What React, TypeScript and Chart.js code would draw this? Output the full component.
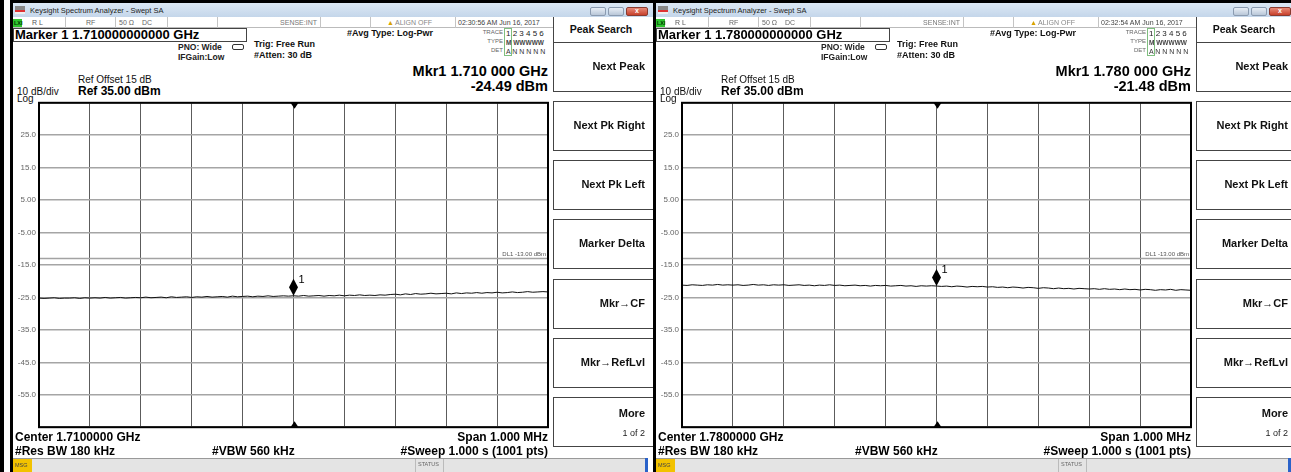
import React, { useEffect, useRef } from "react";
import { Chart, registerables } from "chart.js";

Chart.register(...registerables);

const FONT = '"Liberation Sans", Arial, sans-serif';
const NARROW = '"Liberation Sans Narrow", "Liberation Sans", Arial, sans-serif';

// ---------- data ----------
const yTickValues = [25, 15, 5, -5, -15, -25, -35, -45, -55];
const yTickLabels = ["25.0", "15.0", "5.00", "-5.00", "-15.0", "-25.0", "-35.0", "-45.0", "-55.0"];
const yMin = -65;
const yMax = 35;
const displayLineDbm = -13;
const spanStartKHz = -500;
const spanEndKHz = 500;

// 1.710 GHz trace (dBm), 101 samples across the 1 MHz span
const traceLeft = [
  -25.2, -25.3, -25.2, -25.1, -25.3, -25.2, -25.2, -25.1, -25.3, -25.1,
  -25.2, -25.1, -25.2, -25.0, -25.2, -25.1, -25.0, -25.2, -25.1, -25.0,
  -25.1, -24.9, -25.1, -25.0, -24.9, -25.1, -24.8, -25.0, -24.9, -24.8,
  -25.0, -24.8, -24.9, -24.7, -24.9, -24.8, -24.7, -24.9, -24.6, -24.8,
  -24.7, -24.6, -24.8, -24.6, -24.7, -24.5, -24.7, -24.6, -24.5, -24.6,
  -24.49, -24.6, -24.4, -24.6, -24.5, -24.4, -24.6, -24.4, -24.5, -24.3,
  -24.5, -24.3, -24.4, -24.2, -24.4, -24.3, -24.4, -24.2, -24.3, -24.1,
  -24.0, -24.2, -23.9, -24.1, -23.8, -24.0, -23.9, -23.7, -23.9, -23.8,
  -23.7, -23.9, -23.6, -23.8, -23.6, -23.7, -23.5, -23.7, -23.5, -23.6,
  -23.4, -23.6, -23.5, -23.3, -23.5, -23.4, -23.2, -23.4, -23.3, -23.2,
  -23.3,
];

// 1.780 GHz trace (dBm)
const traceRight = [
  -21.2, -21.3, -21.1, -21.2, -21.3, -21.1, -21.2, -21.0, -21.2, -21.1,
  -21.2, -21.1, -21.3, -21.2, -21.0, -21.2, -21.1, -21.3, -21.1, -21.2,
  -21.1, -21.3, -21.2, -21.1, -21.3, -21.2, -21.4, -21.2, -21.3, -21.1,
  -21.3, -21.2, -21.4, -21.3, -21.2, -21.4, -21.3, -21.5, -21.3, -21.4,
  -21.3, -21.5, -21.4, -21.3, -21.5, -21.4, -21.6, -21.4, -21.5, -21.4,
  -21.48, -21.6, -21.5, -21.7, -21.5, -21.6, -21.8, -21.6, -21.7, -21.6,
  -21.8, -21.7, -21.9, -21.8, -22.0, -21.8, -21.9, -22.1, -21.9, -22.0,
  -22.2, -22.0, -22.1, -22.3, -22.1, -22.3, -22.2, -22.4, -22.2, -22.3,
  -22.4, -22.3, -22.5, -22.3, -22.5, -22.4, -22.6, -22.4, -22.6, -22.5,
  -22.7, -22.5, -22.6, -22.8, -22.6, -22.7, -22.5, -22.8, -22.6, -22.7,
  -22.8,
];

const markerValues = [-24.49, -21.48];
const markerFreqLong = ["1.710000000000 GHz", "1.780000000000 GHz"];
const markerFreqShort = ["1.710 000 GHz", "1.780 000 GHz"];
const centerFreqs = ["1.7100000 GHz", "1.7800000 GHz"];
const timestamps = ["02:30:56 AM Jun 16, 2017", "02:32:54 AM Jun 16, 2017"];
const softkeyLabels = ["Next Peak", "Next Pk Right", "Next Pk Left", "Marker Delta", "Mkr\u2192CF", "Mkr\u2192RefLvl"];

// ---------- helpers ----------
const PW = 653;

type TxtProps = {
  x: number; y: number; s: number; w?: number; c?: string; f?: string;
  align?: "left" | "right" | "center"; children: React.ReactNode;
};
function Txt({ x, y, s, w = 400, c = "#000", f = FONT, align = "left", children }: TxtProps) {
  const style: React.CSSProperties = {
    position: "absolute",
    top: y - s * 0.6,
    fontSize: s,
    lineHeight: `${s * 1.2}px`,
    fontWeight: w,
    color: c,
    fontFamily: f,
    whiteSpace: "nowrap",
  };
  if (align === "left") style.left = x;
  else if (align === "right") style.right = PW - x;
  else { style.left = x; style.transform = "translateX(-50%)"; }
  return <div style={style}>{children}</div>;
}

function Box({ x, y, w, h, style }: { x: number; y: number; w: number; h: number; style?: React.CSSProperties }) {
  return <div style={{ position: "absolute", left: x, top: y, width: w, height: h, boxSizing: "border-box", ...style }} />;
}

const decorPlugin = {
  id: "saDecor",
  afterDraw(chart: any) {
    const { ctx, chartArea, scales } = chart;
    const { left, top, right, bottom } = chartArea;
    const x = scales.x;
    const y = scales.y;
    ctx.save();
    ctx.strokeStyle = "#000";
    ctx.lineWidth = 2;
    ctx.strokeRect(left, top, right - left, bottom - top);
    const cx = Math.round(x.getPixelForValue(0)) + 0.5;
    ctx.fillStyle = "#000";
    ctx.beginPath();
    ctx.moveTo(cx - 4, top); ctx.lineTo(cx + 4, top); ctx.lineTo(cx, top + 6); ctx.closePath(); ctx.fill();
    ctx.beginPath();
    ctx.moveTo(cx - 4, bottom); ctx.lineTo(cx + 4, bottom); ctx.lineTo(cx, bottom - 6); ctx.closePath(); ctx.fill();
    const dy = y.getPixelForValue(displayLineDbm);
    ctx.font = "6px " + NARROW;
    ctx.fillStyle = "#555";
    ctx.textAlign = "right";
    ctx.textBaseline = "bottom";
    ctx.fillText("DL1 -13.00 dBm", right - 2, dy - 1);
    const pt = chart.getDatasetMeta(2).data[0];
    if (pt) {
      const px = pt.x, py = pt.y;
      ctx.fillStyle = "#000";
      ctx.beginPath();
      ctx.moveTo(px, py);
      ctx.lineTo(px + 4.5, py - 8.5);
      ctx.lineTo(px, py - 17);
      ctx.lineTo(px - 4.5, py - 8.5);
      ctx.closePath();
      ctx.fill();
      ctx.font = "11px " + FONT;
      ctx.textAlign = "left";
      ctx.textBaseline = "middle";
      ctx.fillText("1", px + 5, py - 16);
    }
    ctx.restore();
  },
};

function Plot({ trace, marker }: { trace: number[]; marker: number }) {
  const ref = useRef<HTMLCanvasElement>(null);
  useEffect(() => {
    if (!ref.current) return;
    const step = (spanEndKHz - spanStartKHz) / (trace.length - 1);
    const chart = new Chart(ref.current, {
      type: "line",
      data: {
        datasets: [
          {
            label: "Trace 1",
            data: trace.map((v, i) => ({ x: spanStartKHz + i * step, y: v })),
            borderColor: "#111",
            borderWidth: 1,
            pointRadius: 0,
            tension: 0,
          },
          {
            label: "DL1",
            data: [{ x: spanStartKHz, y: displayLineDbm }, { x: spanEndKHz, y: displayLineDbm }],
            borderColor: "#a3a3a3",
            borderWidth: 1.5,
            pointRadius: 0,
          },
          {
            label: "Mkr1",
            data: [{ x: 0, y: marker }],
            pointRadius: 0,
            showLine: false,
            borderColor: "transparent",
          },
        ],
      },
      options: {
        animation: false,
        responsive: false,
        devicePixelRatio: 1,
        layout: { padding: { top: 5, right: 4, bottom: 5, left: 0 } },
        plugins: { legend: { display: false }, tooltip: { enabled: false } },
        scales: {
          x: {
            type: "linear",
            min: spanStartKHz,
            max: spanEndKHz,
            ticks: { display: false, stepSize: 100 },
            grid: { color: "#5c5c5c", lineWidth: 1, drawTicks: false },
            border: { display: false },
            afterFit: (s: any) => { s.height = 0; },
          },
          y: {
            min: yMin,
            max: yMax,
            ticks: {
              stepSize: 10,
              padding: 3,
              color: "#666",
              font: { family: NARROW, size: 8 },
              callback: (v: any) => {
                const i = yTickValues.indexOf(Number(v));
                return i >= 0 ? yTickLabels[i] : "";
              },
            },
            grid: { color: "#a5a5a5", lineWidth: 1.5, drawTicks: false },
            border: { display: false },
            afterFit: (s: any) => { s.width = 39; },
          },
        },
      } as any,
      plugins: [decorPlugin],
    });
    return () => chart.destroy();
  }, [trace, marker]);
  return (
    <canvas ref={ref} width={552} height={340}
      style={{ position: "absolute", left: 0, top: 95, width: 552, height: 340 }} />
  );
}

function Panel({ offset, idx, trace }: { offset: number; idx: number; trace: number[] }) {
  const val = markerValues[idx];
  const cellSeps = [65, 115, 167, 217, 320, 370, 455];
  const softTop = [42, 101, 160, 219, 279, 338];
  return (
    <div style={{ position: "absolute", left: offset, top: 0, width: PW, height: 472, overflow: "hidden", fontFamily: FONT }}>
      {/* window background and frame */}
      <Box x={13} y={0} w={640} h={472} style={{ background: "#fff" }} />
      <Box x={10} y={0} w={3} h={472} style={{ background: "#000" }} />
      <Box x={10} y={0} w={643} h={3} style={{ background: "#000" }} />
      {/* title bar */}
      <Box x={13} y={3} w={640} h={14} style={{ background: "linear-gradient(#dce8f5, #c4d6ea)" }} />
      <Box x={15} y={6} w={10} h={8} style={{ background: "linear-gradient(#888 0 45%, #d33 45% 70%, #eee 70%)" }} />
      <Txt x={30} y={10} s={7.5} c="#222">Keysight Spectrum Analyzer - Swept SA</Txt>
      <Box x={590} y={7} w={16} h={9} style={{ background: "linear-gradient(#e8eef6,#b9c7d8)", border: "1px solid #8b9bb0", borderRadius: 2 }} />
      <Box x={608} y={7} w={16} h={9} style={{ background: "linear-gradient(#e8eef6,#b9c7d8)", border: "1px solid #8b9bb0", borderRadius: 2 }} />
      <Box x={626} y={7} w={22} h={9} style={{ background: "linear-gradient(#e88a78,#c7402c)", border: "1px solid #8a3a2e", borderRadius: 2 }} />
      <Txt x={637} y={11.5} s={7} w={700} c="#fff" align="center">x</Txt>
      {/* status row */}
      <Box x={13} y={17} w={540} h={11} style={{ borderBottom: "1px solid #bbb" }} />
      <Box x={13} y={19} w={9} h={8} style={{ background: "#2fc42f" }} />
      <Txt x={14} y={23} s={5.5} w={700} c="#030">LXI</Txt>
      {cellSeps.map((sx) => <Box key={sx} x={sx} y={17} w={1} h={11} style={{ background: "#c4c4c4" }} />)}
      <Txt x={32} y={23} s={7} c="#555">R L</Txt>
      <Txt x={86} y={23} s={7} c="#666">RF</Txt>
      <Txt x={119} y={23} s={7} c="#666">50 Ω</Txt>
      <Txt x={142} y={23} s={7} c="#666">DC</Txt>
      <Txt x={317} y={23} s={7} c="#777" align="right">SENSE:INT</Txt>
      <Txt x={387} y={23} s={7} c="#d9a300">▲</Txt>
      <Txt x={395} y={23} s={7} c="#888">ALIGN OFF</Txt>
      <Txt x={458} y={23} s={7} c="#444">{timestamps[idx]}</Txt>
      {/* marker box */}
      <Box x={13} y={28} w={234} h={14} style={{ border: "1px solid #444" }} />
      <Txt x={15} y={35} s={13} w={700}>{"Marker 1 " + markerFreqLong[idx]}</Txt>
      <Txt x={178} y={47} s={8.5} w={700} c="#222">PNO: Wide</Txt>
      <Box x={232} y={44} w={12} h={6} style={{ border: "1px solid #333", borderRadius: 2 }} />
      <Txt x={178} y={57} s={8.5} w={700} c="#222">IFGain:Low</Txt>
      <Txt x={254} y={44} s={9} w={700} c="#111">Trig: Free Run</Txt>
      <Txt x={254} y={55} s={9} w={700} c="#111">#Atten: 30 dB</Txt>
      <Txt x={347} y={33} s={9} w={700} c="#111">#Avg Type: Log-Pwr</Txt>
      {/* trace table */}
      <Txt x={503} y={33} s={6} c="#666" align="right">TRACE</Txt>
      <Txt x={503} y={42} s={6} c="#666" align="right">TYPE</Txt>
      <Txt x={503} y={51} s={6} c="#666" align="right">DET</Txt>
      <Box x={504} y={28} w={48} h={28} style={{ borderLeft: "1px solid #bbb" }} />
      <Box x={504} y={28} w={8} h={28} style={{ border: "1px solid #7fbf7f" }} />
      <Txt x={506} y={34} s={8} c="#222">1 2 3 4 5 6</Txt>
      <Txt x={506} y={43} s={6.5} w={700} c="#444">M WWWWW</Txt>
      <Txt x={506} y={52} s={7} c="#333">A N N N N N</Txt>
      {/* marker readout */}
      <Txt x={548} y={72} s={14.5} w={700} align="right">{"Mkr1 " + markerFreqShort[idx]}</Txt>
      <Txt x={548} y={87} s={14.5} w={700} align="right">{val.toFixed(2) + " dBm"}</Txt>
      {/* ref info */}
      <Txt x={78} y={80} s={10} c="#111">Ref Offset 15 dB</Txt>
      <Txt x={78} y={91} s={12} w={700}>Ref 35.00 dBm</Txt>
      <Txt x={17} y={92} s={10} c="#111">10 dB/div</Txt>
      <Txt x={17} y={99} s={10} c="#111">Log</Txt>
      <Plot trace={trace} marker={val} />
      {/* bottom text */}
      <Txt x={15} y={437} s={12} w={700}>{"Center " + centerFreqs[idx]}</Txt>
      <Txt x={15} y={451.5} s={12} w={700}>#Res BW 180 kHz</Txt>
      <Txt x={212} y={451.5} s={12} w={700}>#VBW 560 kHz</Txt>
      <Txt x={548} y={437} s={12} w={700} align="right">Span 1.000 MHz</Txt>
      <Txt x={548} y={451.5} s={12} w={700} align="right">#Sweep  1.000 s (1001 pts)</Txt>
      {/* status bar */}
      <Box x={13} y={458} w={632} h={14} style={{ background: "#e4e4e4", borderTop: "1px solid #999" }} />
      <Box x={13} y={459} w={19} h={13} style={{ background: "#f2c200" }} />
      <Txt x={15} y={465.5} s={5.5} c="#444">MSG</Txt>
      <Box x={415} y={459} w={29} h={13} style={{ borderLeft: "1px solid #bbb", borderRight: "1px solid #bbb" }} />
      <Txt x={418} y={464.5} s={5.5} c="#666">STATUS</Txt>
      <Box x={645} y={458} w={3} h={14} style={{ background: "#2a62c9" }} />
      {/* softkeys */}
      <Box x={553} y={17} w={100} h={25} style={{ borderLeft: "1.5px solid #444" }} />
      <Txt x={601} y={29} s={10.5} w={700} c="#111" align="center">Peak Search</Txt>
      {softkeyLabels.map((lab, i) => (
        <React.Fragment key={lab}>
          <Box x={553} y={softTop[i]} w={100} h={50} style={{ borderLeft: "1.5px solid #444", borderTop: "1.5px solid #444", borderBottom: "1.5px solid #444" }} />
          <Txt x={645} y={softTop[i] + 25} s={11} w={700} c="#111" align="right">{lab}</Txt>
        </React.Fragment>
      ))}
      <Box x={553} y={397} w={100} h={50} style={{ borderLeft: "1.5px solid #444", borderTop: "1.5px solid #444", borderBottom: "1.5px solid #444" }} />
      <Txt x={645} y={414} s={11} w={700} c="#111" align="right">More</Txt>
      <Txt x={645} y={433} s={9} c="#222" align="right">1 of 2</Txt>
    </div>
  );
}

export default function App() {
  return (
    <div style={{ position: "fixed", left: 0, top: 0, width: 1291, height: 472, overflow: "hidden", background: "#fff" }}>
      <div style={{ position: "absolute", left: 0, top: 0, width: 4, height: 472, background: "#000" }} />
      <Panel offset={0} idx={0} trace={traceLeft} />
      <Panel offset={643} idx={1} trace={traceRight} />
    </div>
  );
}
